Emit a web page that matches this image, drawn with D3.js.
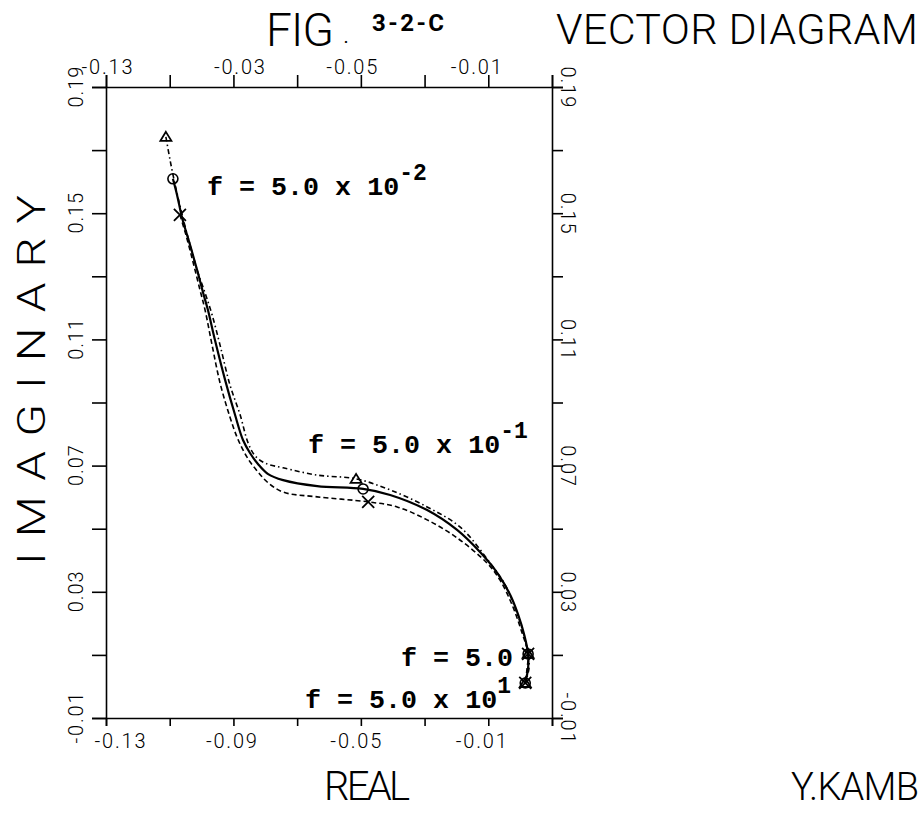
<!DOCTYPE html>
<html>
<head>
<meta charset="utf-8">
<script src="https://cdn.jsdelivr.net/npm/d3@7"></script>
<style>
  html, body { margin: 0; padding: 0; background: #fff; }
  svg { display: block; }
  .plot { font-family: Roboto, "DejaVu Sans", sans-serif; font-weight: 300; }
  .ann { font-family: "Liberation Mono", "DejaVu Sans Mono", monospace; font-weight: bold; }
</style>
</head>
<body>
<svg id="chart" width="922" height="816"></svg>
<script>
// ---------------- data ----------------
const xDomain = [-0.13, 0.01];
const yDomain = [-0.01, 0.19];
const xTickValues = [-0.13, -0.11, -0.09, -0.07, -0.05, -0.03, -0.01, 0.01];
const yTickValues = [-0.01, 0.01, 0.03, 0.05, 0.07, 0.09, 0.11, 0.13, 0.15, 0.17, 0.19];
const xLabelValues = [-0.13, -0.09, -0.05, -0.01];
const bottomTickLabels = ["-0.13", "-0.09", "-0.05", "-0.01"];
const topTickLabels = ["-0.13", "-0.03", "-0.05", "-0.01"];
const yLabelValues = [-0.01, 0.03, 0.07, 0.11, 0.15, 0.19];
const yTickLabels = ["-0.01", "0.03", "0.07", "0.11", "0.15", "0.19"];

// solid curve (circle markers): [real, imaginary]
const seriesCircle = [
  [-0.1090, 0.1609], [-0.1077, 0.1558], [-0.1061, 0.1485], [-0.1036, 0.1399],
  [-0.1014, 0.1320], [-0.0995, 0.1247], [-0.0980, 0.1193], [-0.0958, 0.1098],
  [-0.0926, 0.0971], [-0.0895, 0.0861], [-0.0870, 0.0781], [-0.0848, 0.0740],
  [-0.0823, 0.0705], [-0.0791, 0.0673], [-0.0744, 0.0654], [-0.0637, 0.0635],
  [-0.0493, 0.0626], [-0.0408, 0.0607], [-0.0292, 0.0559], [-0.0198, 0.0496],
  [-0.0126, 0.0426], [-0.0072, 0.0360], [-0.0031, 0.0290], [-0.0006, 0.0227],
  [0.0013, 0.0163], [0.0025, 0.0103], [0.0025, 0.0059], [0.0016, 0.0011]
];
// dash-dot curve (triangle markers)
const seriesTriangle = [
  [-0.1112, 0.1742], [-0.1099, 0.1669], [-0.1083, 0.1590], [-0.1061, 0.1495],
  [-0.1036, 0.1399], [-0.1014, 0.1320], [-0.0989, 0.1247], [-0.0967, 0.1178],
  [-0.0942, 0.1082], [-0.0911, 0.0956], [-0.0879, 0.0861], [-0.0854, 0.0772],
  [-0.0832, 0.0731], [-0.0801, 0.0708], [-0.0744, 0.0693], [-0.0637, 0.0670],
  [-0.0515, 0.0658], [-0.0408, 0.0623], [-0.0292, 0.0569], [-0.0188, 0.0505],
  [-0.0094, 0.0391], [-0.0047, 0.0322], [-0.0016, 0.0249], [0.0009, 0.0173],
  [0.0025, 0.0103], [0.0028, 0.0059], [0.0016, 0.0011]
];
// dashed curve (cross markers)
const seriesCross = [
  [-0.1068, 0.1495], [-0.1049, 0.1431], [-0.1027, 0.1346], [-0.1005, 0.1257],
  [-0.0989, 0.1193], [-0.0967, 0.1082], [-0.0942, 0.0962], [-0.0911, 0.0854],
  [-0.0889, 0.0791], [-0.0870, 0.0750], [-0.0848, 0.0712], [-0.0823, 0.0680],
  [-0.0794, 0.0648], [-0.0744, 0.0616], [-0.0637, 0.0601], [-0.0477, 0.0585],
  [-0.0386, 0.0569], [-0.0292, 0.0528], [-0.0198, 0.0471], [-0.0104, 0.0391],
  [-0.0063, 0.0337], [-0.0025, 0.0258], [0.0003, 0.0179], [0.0025, 0.0103],
  [0.0022, 0.0059], [0.0016, 0.0011]
];
// marker points at f = 5e-2, 5e-1, 5.0, 5e1
const markersCircle   = [[-0.1090, 0.1609], [-0.0493, 0.0626], [0.0025, 0.0103], [0.0016, 0.0011]];
const markersTriangle = [[-0.1112, 0.1742], [-0.0515, 0.0658], [0.0025, 0.0103], [0.0016, 0.0011]];
const markersCross    = [[-0.1068, 0.1495], [-0.0477, 0.0585], [0.0025, 0.0103], [0.0016, 0.0011]];

const freqMain = ["f = 5.0 x 10", "f = 5.0 x 10", "f = 5.0", "f = 5.0 x 10"];
const freqExp  = ["-2", "-1", "", "1"];

// ---------------- drawing ----------------
const svg = d3.select("#chart");
const x = d3.scaleLinear().domain(xDomain).range([106, 552]);
const y = d3.scaleLinear().domain(yDomain).range([718, 87]);

const g = svg.append("g").attr("class", "plot");

// frame axes with outward ticks
const axStyle = sel => {
  sel.selectAll("path.domain").attr("stroke", "#000").attr("stroke-width", 1.6);
  sel.selectAll(".tick line").attr("stroke", "#000").attr("stroke-width", 1.6);
  sel.selectAll(".tick text").remove();
};
g.append("g").attr("transform", `translate(0,${y(yDomain[0])})`)
  .call(d3.axisBottom(x).tickValues(xTickValues).tickSizeOuter(0).tickSize(8)).call(axStyle);
g.append("g").attr("transform", `translate(0,${y(yDomain[1])})`)
  .call(d3.axisTop(x).tickValues(xTickValues).tickSizeOuter(0).tickSize(12)).call(axStyle);
g.append("g").attr("transform", `translate(${x(xDomain[0])},0)`)
  .call(d3.axisLeft(y).tickValues(yTickValues).tickSizeOuter(0).tickSize(14)).call(axStyle);
g.append("g").attr("transform", `translate(${x(xDomain[1])},0)`)
  .call(d3.axisRight(y).tickValues(yTickValues).tickSizeOuter(0).tickSize(11)).call(axStyle);

// tick labels
const tickFont = 20;
const lenOf = s => s.length * 10.2;
const bottomShift = [14, -2, -5, -7];
const topShift = [1, 6, -9, -12];
g.selectAll(".blab").data(xLabelValues).enter().append("text")
  .attr("x", (d, i) => x(d) + bottomShift[i])
  .attr("y", y(yDomain[0]) + 30)
  .attr("text-anchor", "middle").attr("font-size", tickFont)
  .attr("textLength", (d, i) => lenOf(bottomTickLabels[i]))
  .text((d, i) => bottomTickLabels[i]);
g.selectAll(".tlab").data(xLabelValues).enter().append("text")
  .attr("x", (d, i) => x(d) + topShift[i])
  .attr("y", y(yDomain[1]) - 13)
  .attr("text-anchor", "middle").attr("font-size", tickFont)
  .attr("textLength", (d, i) => lenOf(topTickLabels[i]))
  .text((d, i) => topTickLabels[i]);
g.selectAll(".llab").data(yLabelValues).enter().append("text")
  .attr("transform", d => `translate(${x(xDomain[0]) - 23},${y(d)}) rotate(-90)`)
  .attr("text-anchor", "middle").attr("font-size", tickFont)
  .attr("textLength", (d, i) => lenOf(yTickLabels[i]))
  .text((d, i) => yTickLabels[i]);
g.selectAll(".rlab").data(yLabelValues).enter().append("text")
  .attr("transform", d => `translate(${x(xDomain[1]) + 9},${y(d)}) rotate(90)`)
  .attr("text-anchor", "middle").attr("font-size", tickFont)
  .attr("textLength", (d, i) => lenOf(yTickLabels[i]))
  .text((d, i) => yTickLabels[i]);

// curves
const line = d3.line().x(d => x(d[0])).y(d => y(d[1])).curve(d3.curveCatmullRom.alpha(0.5));
g.append("path").datum(seriesTriangle).attr("d", line).attr("fill", "none")
  .attr("stroke", "#000").attr("stroke-width", 1.6).attr("stroke-dasharray", "5,3,1.5,3");
g.append("path").datum(seriesCross).attr("d", line).attr("fill", "none")
  .attr("stroke", "#000").attr("stroke-width", 1.6).attr("stroke-dasharray", "5,3");
g.append("path").datum(seriesCircle).attr("d", line).attr("fill", "none")
  .attr("stroke", "#000").attr("stroke-width", 2.2);

// markers
g.selectAll(".mc").data(markersCircle).enter().append("circle")
  .attr("cx", d => x(d[0])).attr("cy", d => y(d[1])).attr("r", 5)
  .attr("fill", "none").attr("stroke", "#000").attr("stroke-width", 1.6);
g.selectAll(".mt").data(markersTriangle).enter().append("path")
  .attr("transform", d => `translate(${x(d[0])},${y(d[1])})`)
  .attr("d", "M0,-5 L5.5,4 L-5.5,4 Z")
  .attr("fill", "none").attr("stroke", "#000").attr("stroke-width", 1.8);
g.selectAll(".mx").data(markersCross).enter().append("path")
  .attr("transform", d => `translate(${x(d[0])},${y(d[1])})`)
  .attr("d", "M-6,-6 L6,6 M6,-6 L-6,6")
  .attr("fill", "none").attr("stroke", "#000").attr("stroke-width", 1.8);

// frequency annotations
const annPos = [[207, 195], [308, 453], [401, 666], [305, 708]];
freqMain.forEach((t, i) => {
  const tx = svg.append("text").attr("class", "ann")
    .attr("x", annPos[i][0]).attr("y", annPos[i][1]).attr("font-size", 26.7);
  tx.append("tspan").text(t);
  if (freqExp[i]) tx.append("tspan").attr("dy", -15).attr("font-size", 23).text(freqExp[i]);
});

// titles
const tFont = "Roboto, 'DejaVu Sans', sans-serif";
svg.append("text").attr("x", 266).attr("y", 46).attr("font-family", tFont).attr("font-weight", 300)
  .attr("font-size", 46).attr("textLength", 68).text("FIG");
svg.append("text").attr("x", 344).attr("y", 43).attr("font-family", tFont).attr("font-weight", 700)
  .attr("font-size", 14).text(".");
svg.append("text").attr("x", 372).attr("y", 31).attr("font-family", tFont).attr("font-weight", 700)
  .attr("font-size", 24).attr("textLength", 72).text("3-2-C");
svg.append("text").attr("x", 556).attr("y", 44).attr("font-family", tFont).attr("font-weight", 300)
  .attr("font-size", 43).attr("textLength", 362).text("VECTOR DIAGRAM");
svg.append("text").attr("transform", "translate(45,380) rotate(-90) scale(1.25,1)").attr("text-anchor", "middle")
  .attr("font-family", tFont).attr("font-weight", 300).attr("font-size", 38).attr("textLength", 296)
  .text("IMAGINARY");
svg.append("text").attr("x", 367).attr("y", 800).attr("text-anchor", "middle")
  .attr("font-family", tFont).attr("font-weight", 300).attr("font-size", 40).attr("textLength", 86).text("REAL");
svg.append("text").attr("x", 791).attr("y", 800)
  .attr("font-family", tFont).attr("font-weight", 300).attr("font-size", 38).attr("textLength", 128).text("Y.KAMB");
</script>
</body>
</html>
